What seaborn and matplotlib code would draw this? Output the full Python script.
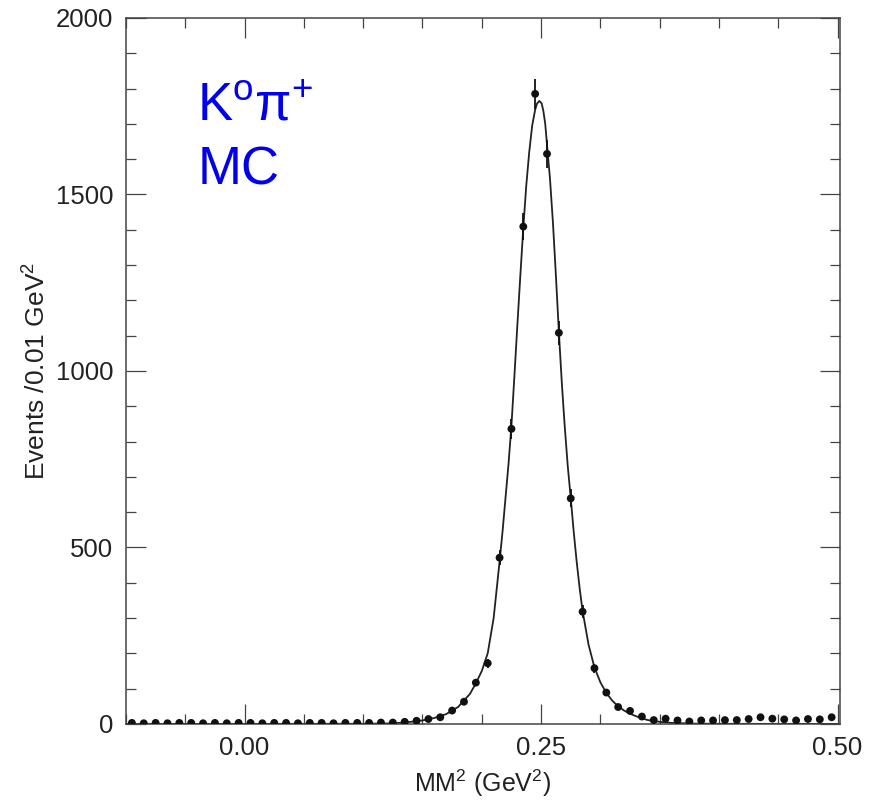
import numpy as np
import pandas as pd
import matplotlib
matplotlib.use("Agg")
import matplotlib.pyplot as plt
from matplotlib.ticker import MultipleLocator, FormatStrFormatter
import seaborn as sns

# ---- data ----
bin_centers = [-0.095, -0.085, -0.075, -0.065, -0.055, -0.045, -0.035, -0.025, -0.015, -0.005,
               0.005, 0.015, 0.025, 0.035, 0.045, 0.055, 0.065, 0.075, 0.085, 0.095,
               0.105, 0.115, 0.125, 0.135, 0.145, 0.155, 0.165, 0.175, 0.185, 0.195,
               0.205, 0.215, 0.225, 0.235, 0.245, 0.255, 0.265, 0.275, 0.285, 0.295,
               0.305, 0.315, 0.325, 0.335, 0.345, 0.355, 0.365, 0.375, 0.385, 0.395,
               0.405, 0.415, 0.425, 0.435, 0.445, 0.455, 0.465, 0.475, 0.485, 0.495]
counts = [3, 2, 3, 2, 3, 3, 2, 3, 2, 3,
          3, 2, 3, 3, 2, 3, 3, 2, 3, 3,
          3, 4, 4, 6, 9, 14, 19, 38, 63, 117,
          172, 471, 836, 1409, 1785, 1615, 1108, 639, 318, 158,
          89, 48, 37, 21, 11, 15, 10, 7, 10, 10,
          11, 11, 14, 19, 15, 13, 10, 14, 13, 19]

fit_x = [-0.10, 0.00, 0.10, 0.12, 0.13, 0.14, 0.15, 0.16, 0.17, 0.18, 0.19, 0.195,
         0.20, 0.205, 0.21, 0.215, 0.2175, 0.22, 0.2225, 0.225, 0.2275, 0.23, 0.2325,
         0.235, 0.2375, 0.24, 0.2425, 0.245, 0.2465, 0.2485, 0.2505, 0.252, 0.2535,
         0.255, 0.2575, 0.26, 0.2625, 0.265, 0.2675, 0.27, 0.2725, 0.275, 0.2775,
         0.28, 0.2825, 0.285, 0.29, 0.295, 0.30, 0.305, 0.31, 0.315, 0.32, 0.325,
         0.33, 0.335, 0.34, 0.35, 0.36, 0.38, 0.40, 0.50]
fit_y = [0, 0.2, 0.5, 1.5, 3, 6, 10, 17, 28, 48, 85, 115,
         150, 200, 300, 460, 545, 640, 735, 845, 985, 1130, 1270,
         1405, 1525, 1620, 1695, 1740, 1757, 1765, 1758, 1735, 1700,
         1640, 1545, 1420, 1270, 1110, 965, 840, 730, 640, 545,
         460, 385, 320, 225, 160, 118, 88, 66, 50, 38, 29,
         22, 16, 11, 6, 3, 1, 0.5, 0]

x_ticks = [0.00, 0.25, 0.50]
y_ticks = [0, 500, 1000, 1500, 2000]

# ---- style ----
sns.set_style("ticks")
plt.rcParams['font.family'] = ['Liberation Sans', 'DejaVu Sans']
plt.rcParams['mathtext.fontset'] = 'custom'
plt.rcParams['mathtext.rm'] = 'Liberation Sans'
plt.rcParams['mathtext.it'] = 'Liberation Sans:italic'

fig = plt.figure(figsize=(8.79, 8.02), dpi=100)
ax = fig.add_axes([0.1433, 0.0973, 0.9556 - 0.1433, 0.9776 - 0.0973])

df = pd.DataFrame({"x": bin_centers, "n": counts})
df["err"] = np.sqrt(df["n"])
fit = pd.DataFrame({"x": fit_x, "y": fit_y})

ax.errorbar(df["x"], df["n"], yerr=df["err"], fmt="none", ecolor="#111111",
            elinewidth=1.3, capsize=0, zorder=3)
sns.lineplot(data=fit, x="x", y="y", ax=ax, color="#222222", linewidth=1.3,
             zorder=2, sort=False)
sns.scatterplot(data=df, x="x", y="n", ax=ax, color="#111111", s=32,
                edgecolor="none", zorder=4)

ax.set_xlim(-0.10, 0.502)
ax.set_ylim(0, 2000)
ax.set_xticks(x_ticks)
ax.xaxis.set_minor_locator(MultipleLocator(0.05))
ax.xaxis.set_major_formatter(FormatStrFormatter('%.2f'))
ax.set_yticks(y_ticks)
ax.yaxis.set_minor_locator(MultipleLocator(100))

for s in ax.spines.values():
    s.set_visible(True)
    s.set_linewidth(1.1)
    s.set_color("#444444")

ax.tick_params(which="both", direction="in", top=True, right=True,
               color="#444444", width=0.9, labelsize=18.5, labelcolor="#222222")
ax.tick_params(which="major", length=14.5, pad=9)
ax.tick_params(which="minor", length=7.5)

ax.set_xlabel("MM$^{2}$ (GeV$^{2}$)", fontsize=18, color="#222222", labelpad=5)
ax.set_ylabel("Events /0.01 GeV$^{2}$", fontsize=19, color="#222222", labelpad=4)

ax.text(0.10, 0.874, "K$^{\\rm o}$π$^{+}$", transform=ax.transAxes, fontsize=38,
        color="#0000EE", ha="left", va="center")
ax.text(0.10, 0.784, "MC", transform=ax.transAxes, fontsize=38,
        color="#0000EE", ha="left", va="center")

fig.savefig("out.png", dpi=100)
